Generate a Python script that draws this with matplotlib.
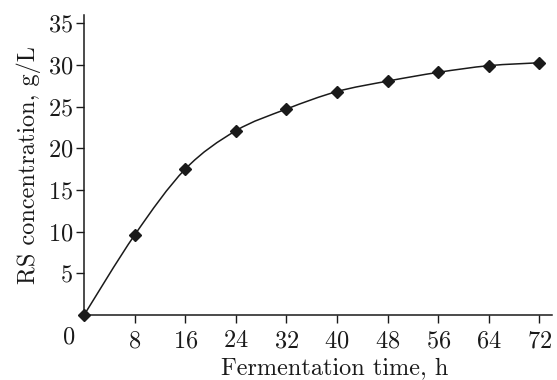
import numpy as np
import matplotlib
matplotlib.use('Agg')
import matplotlib.pyplot as plt
from matplotlib.path import Path
from matplotlib.patches import PathPatch

# fermentation time (h) and reducing sugar concentration (g/L)
time_h = [0, 8, 16, 24, 32, 40, 48, 56, 64, 72]
rs_conc = [0.0, 9.6, 17.5, 22.1, 24.7, 26.8, 28.05, 29.1, 29.9, 30.25]
x_ticks = [8, 16, 24, 32, 40, 48, 56, 64, 72]
y_ticks = [5, 10, 15, 20, 25, 30, 35]

FS = 17.5
plt.rcParams['font.family'] = 'cmr10'
plt.rcParams['axes.formatter.use_mathtext'] = True
plt.rcParams['font.size'] = FS

fig = plt.figure(figsize=(5.57, 3.8), dpi=100)
ax = fig.add_axes([0.151, 0.171, 0.84, 0.79])

# smooth curve through the measured points (Catmull-Rom as bezier segments)
x = np.array(time_h, dtype=float)
y = np.array(rs_conc, dtype=float)
verts = [(x[0], y[0])]
codes = [Path.MOVETO]
n = len(x)
for i in range(n - 1):
    p0 = (x[max(i - 1, 0)], y[max(i - 1, 0)])
    p1 = (x[i], y[i])
    p2 = (x[i + 1], y[i + 1])
    p3 = (x[min(i + 2, n - 1)], y[min(i + 2, n - 1)])
    c1 = (p1[0] + (p2[0] - p0[0]) / 6.0, p1[1] + (p2[1] - p0[1]) / 6.0)
    c2 = (p2[0] - (p3[0] - p1[0]) / 6.0, p2[1] - (p3[1] - p1[1]) / 6.0)
    verts += [c1, c2, p2]
    codes += [Path.CURVE4] * 3
ax.add_patch(PathPatch(Path(verts, codes), fill=False, lw=1.1, edgecolor='#1a1a1a'))

ax.plot(time_h, rs_conc, ls='none', marker='D', ms=6, color='#1a1a1a', clip_on=False, zorder=3)

ax.set_xlim(0, 74)
ax.set_ylim(0, 36)
ax.set_xticks(x_ticks)
ax.set_yticks(y_ticks)
ax.tick_params(direction='out', length=6, width=1, colors='#1a1a1a', labelsize=FS)
ax.tick_params(axis='x', pad=5)
ax.tick_params(axis='y', pad=2)
ax.annotate('0', xy=(0, 0), xytext=(-15, -11), textcoords='offset pixels',
            ha='center', va='top', fontsize=FS, color='#1a1a1a')

for s in ['top', 'right']:
    ax.spines[s].set_visible(False)
for s in ['left', 'bottom']:
    ax.spines[s].set_linewidth(1.1)
    ax.spines[s].set_color('#1a1a1a')

ax.set_xlabel('Fermentation time, h', fontsize=FS, color='#1a1a1a', labelpad=3.5, x=0.535)
ax.set_ylabel('RS concentration, g/L', fontsize=FS, color='#1a1a1a', labelpad=5)

plt.savefig('out.png', dpi=100)
